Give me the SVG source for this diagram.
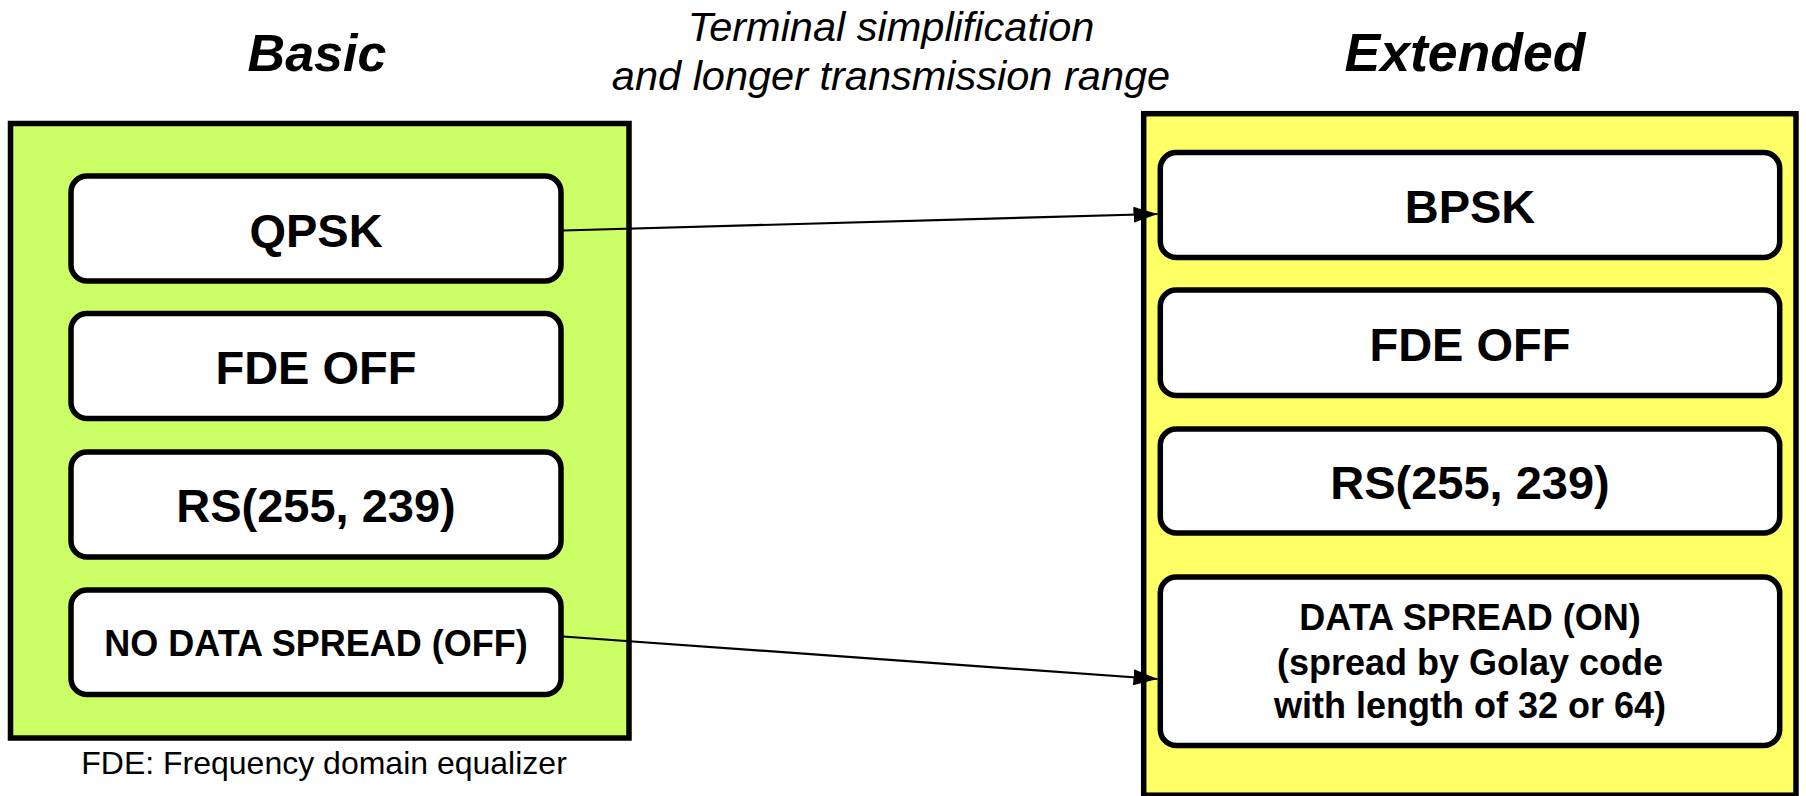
<svg xmlns="http://www.w3.org/2000/svg" width="1806" height="796" viewBox="0 0 1806 796">
  <style>
    text { font-family: "Liberation Sans", Arial, sans-serif; fill: #000; text-anchor: middle; }
    .title { font-size: 52px; font-weight: bold; font-style: italic; }
    .note { font-size: 41.5px; font-style: italic; }
    .big { font-size: 47px; font-weight: bold; }
    .small { font-size: 36px; font-weight: bold; }
    .foot { font-size: 32px; }
    .outer { stroke: #000; stroke-width: 5.5; }
    .box { fill: #fff; stroke: #000; stroke-width: 5.5; }
    .conn { stroke: #000; stroke-width: 2.2; fill: none; }
  </style>
  <defs>
    <marker id="arrow" markerUnits="userSpaceOnUse" markerWidth="24" markerHeight="16" refX="24" refY="8" orient="auto">
      <path d="M0,0 L24,8 L0,16 z" fill="#000"/>
    </marker>
  </defs>

  <rect width="1806" height="796" fill="#fff"/>

  <text class="title" x="317" y="71">Basic</text>
  <text class="title" x="1465" y="71" style="font-size:53.5px">Extended</text>
  <text class="note" x="891" y="41">Terminal simplification</text>
  <text class="note" x="891" y="90">and longer transmission range</text>

  <g id="basic">
    <rect class="outer" x="10.5" y="123.5" width="618.5" height="614.5" fill="#CCFF66"/>
  </g>
  <g id="extended">
    <rect class="outer" x="1143.7" y="113.7" width="652.3" height="681.5" fill="#FFFF66"/>
  </g>

  <g id="qpsk">
    <rect class="box" x="71" y="176" width="490" height="105" rx="16"/>
    <text class="big" x="316" y="246.5">QPSK</text>
  </g>
  <g id="fde-basic">
    <rect class="box" x="71" y="313.5" width="490" height="105" rx="16"/>
    <text class="big" x="316" y="384">FDE OFF</text>
  </g>
  <g id="rs-basic">
    <rect class="box" x="71" y="452" width="490" height="105" rx="16"/>
    <text class="big" x="316" y="522">RS(255, 239)</text>
  </g>
  <g id="nospread">
    <rect class="box" x="71" y="590" width="490" height="104.5" rx="16"/>
    <text class="small" x="316" y="656">NO DATA SPREAD (OFF)</text>
  </g>

  <g id="bpsk">
    <rect class="box" x="1160.3" y="152.5" width="619.4" height="105" rx="16"/>
    <text class="big" x="1470" y="222.5">BPSK</text>
  </g>
  <g id="fde-ext">
    <rect class="box" x="1160.3" y="290" width="619.4" height="105.5" rx="16"/>
    <text class="big" x="1470" y="360.5">FDE OFF</text>
  </g>
  <g id="rs-ext">
    <rect class="box" x="1160.3" y="429" width="619.4" height="104" rx="16"/>
    <text class="big" x="1470" y="499">RS(255, 239)</text>
  </g>
  <g id="spread">
    <rect class="box" x="1160.3" y="577" width="619.4" height="168.5" rx="16"/>
    <text class="small" x="1470" y="630">DATA SPREAD (ON)</text>
    <text class="small" x="1470" y="675">(spread by Golay code</text>
    <text class="small" x="1470" y="718">with length of 32 or 64)</text>
  </g>

  <g id="connectors">
    <line class="conn" x1="563" y1="230.5" x2="1157.5" y2="214" marker-end="url(#arrow)"/>
    <line class="conn" x1="563" y1="636.5" x2="1157.5" y2="679" marker-end="url(#arrow)"/>
  </g>

  <text class="foot" x="324" y="774">FDE: Frequency domain equalizer</text>
</svg>
